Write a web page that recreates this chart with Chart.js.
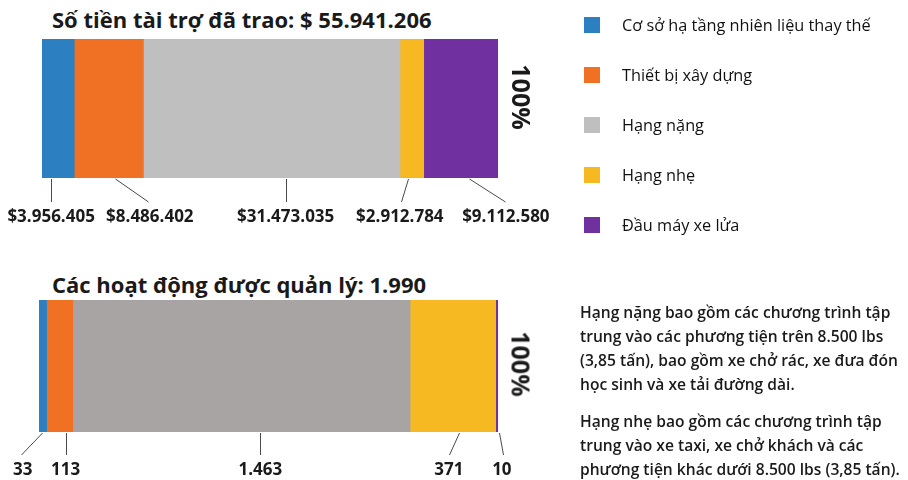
<!DOCTYPE html>
<html>
<head>
<meta charset="utf-8">
<script src="https://cdn.jsdelivr.net/npm/chart.js@4.4.0/dist/chart.umd.min.js"></script>
<style>
body{margin:0;width:908px;height:480px;background:#fff;font-family:'Open Sans',sans-serif;color:#1a1a1a;position:relative;overflow:hidden}
canvas{position:absolute;left:0}
#chart1{top:0}
#chart2{top:240px}
.title{position:absolute;left:52px;font-weight:700;font-size:22px;white-space:nowrap;line-height:1}
.pct{position:absolute;font-weight:700;font-size:25px;line-height:1;transform:translate(-50%,-50%) rotate(90deg);white-space:nowrap}
#legend{position:absolute;left:584px;top:0}
.item{position:absolute;left:0;height:16px;white-space:nowrap}
.item span{position:absolute;left:0;top:0;width:16px;height:16px}
.item div{position:absolute;left:38px;top:-3px;font-size:16.3px;line-height:22px;color:#111}
#notes{position:absolute;left:580px;top:300px;font-size:15.6px;font-weight:600;line-height:24px;white-space:nowrap}
</style>
</head>
<body>
<div class="title" id="title1" style="top:8px"></div>
<canvas id="chart1" width="908" height="240"></canvas>
<div class="pct" style="left:521px;top:97px">100%</div>
<div class="title" id="title2" style="top:273px"></div>
<canvas id="chart2" width="908" height="240"></canvas>
<div class="pct" style="left:521px;top:364px">100%</div>
<div id="legend"></div>
<div id="notes">Hạng nặng bao gồm các chương trình tập<br>trung vào các phương tiện trên 8.500 lbs<br>(3,85 tấn), bao gồm xe chở rác, xe đưa đón<br>học sinh và xe tải đường dài.<br><div style="height:13px"></div>Hạng nhẹ bao gồm các chương trình tập<br>trung vào xe taxi, xe chở khách và các<br>phương tiện khác dưới 8.500 lbs (3,85 tấn).</div>
<script>
// du lieu
const categories = ['Cơ sở hạ tầng nhiên liệu thay thế', 'Thiết bị xây dựng', 'Hạng nặng', 'Hạng nhẹ', 'Đầu máy xe lửa'];
const fundingValues = [3956405, 8486402, 31473035, 2912784, 9112580];
const activityValues = [33, 113, 1463, 371, 10];
const colors = ['#2c7fc0', '#f07123', '#bfbfbf', '#f6b922', '#7030a0'];
const colors2 = ['#2c7fc0', '#f07123', '#a8a4a3', '#f6b922', '#7030a0'];

const fmt = n => String(n).replace(/\B(?=(\d{3})+(?!\d))/g, '.');
const sum = arr => arr.reduce((a, b) => a + b, 0);

document.getElementById('title1').textContent = 'Số tiền tài trợ đã trao: $ ' + fmt(sum(fundingValues));
document.getElementById('title2').textContent = 'Các hoạt động được quản lý: ' + fmt(sum(activityValues));

// legend
const legend = document.getElementById('legend');
categories.forEach((c, i) => {
  const it = document.createElement('div');
  it.className = 'item';
  it.style.top = (17 + i * 50) + 'px';
  it.innerHTML = `<span style="background:${colors[i]}"></span><div>${c}</div>`;
  legend.appendChild(it);
});

// leader lines + value labels under each segment
const leaderPlugin = {
  id: 'leaders',
  afterDatasetsDraw(chart, args, opts) {
    const ctx = chart.ctx;
    const bottom = chart.chartArea.bottom;
    ctx.save();
    ctx.strokeStyle = '#4a4a4a';
    ctx.lineWidth = 1;
    ctx.fillStyle = '#1a1a1a';
    ctx.font = '700 17px "Open Sans", sans-serif';
    ctx.textAlign = 'center';
    ctx.textBaseline = 'middle';
    chart.data.datasets.forEach((ds, i) => {
      const bar = chart.getDatasetMeta(i).data[0];
      const mid = (bar.x + bar.base) / 2;
      const off = opts.offsets[i];
      ctx.beginPath();
      ctx.moveTo(Math.round(mid + off[0]) + 0.5, bottom + 1);
      ctx.lineTo(Math.round(mid + off[1]) + 0.5, bottom + opts.lineLen);
      ctx.stroke();
      ctx.fillText(opts.prefix + fmt(ds.data[0]), mid + off[2], bottom + opts.textY);
    });
    ctx.restore();
  }
};

function makeChart(id, values, cols, padding, leaders) {
  return new Chart(document.getElementById(id), {
    type: 'bar',
    data: {
      labels: [''],
      datasets: categories.map((c, i) => ({
        label: c,
        data: [values[i]],
        backgroundColor: cols[i],
        borderWidth: 0,
        barPercentage: 1,
        categoryPercentage: 1
      }))
    },
    options: {
      indexAxis: 'y',
      responsive: false,
      animation: false,
      layout: { padding: padding },
      scales: {
        x: { stacked: true, min: 0, max: sum(values), display: false },
        y: { stacked: true, display: false }
      },
      plugins: {
        legend: { display: false },
        tooltip: { enabled: false },
        leaders: leaders
      }
    },
    plugins: [leaderPlugin]
  });
}

makeChart('chart1', fundingValues, colors,
  { left: 42, right: 410, top: 39, bottom: 62 },
  { prefix: '$', lineLen: 24, textY: 39,
    offsets: [[-7, -7, -7], [6, 39, 41], [14, 14, 14], [-4, -11, -12], [8, 44, 45]] });

makeChart('chart2', activityValues, colors2,
  { left: 39, right: 410, top: 60, bottom: 48 },
  { prefix: '', lineLen: 23, textY: 38,
    offsets: [[-1, -22, -20], [6, 6, 6], [19, 19, 19], [6, -4, -4], [2, 6, 5]] });
</script>
</body>
</html>
